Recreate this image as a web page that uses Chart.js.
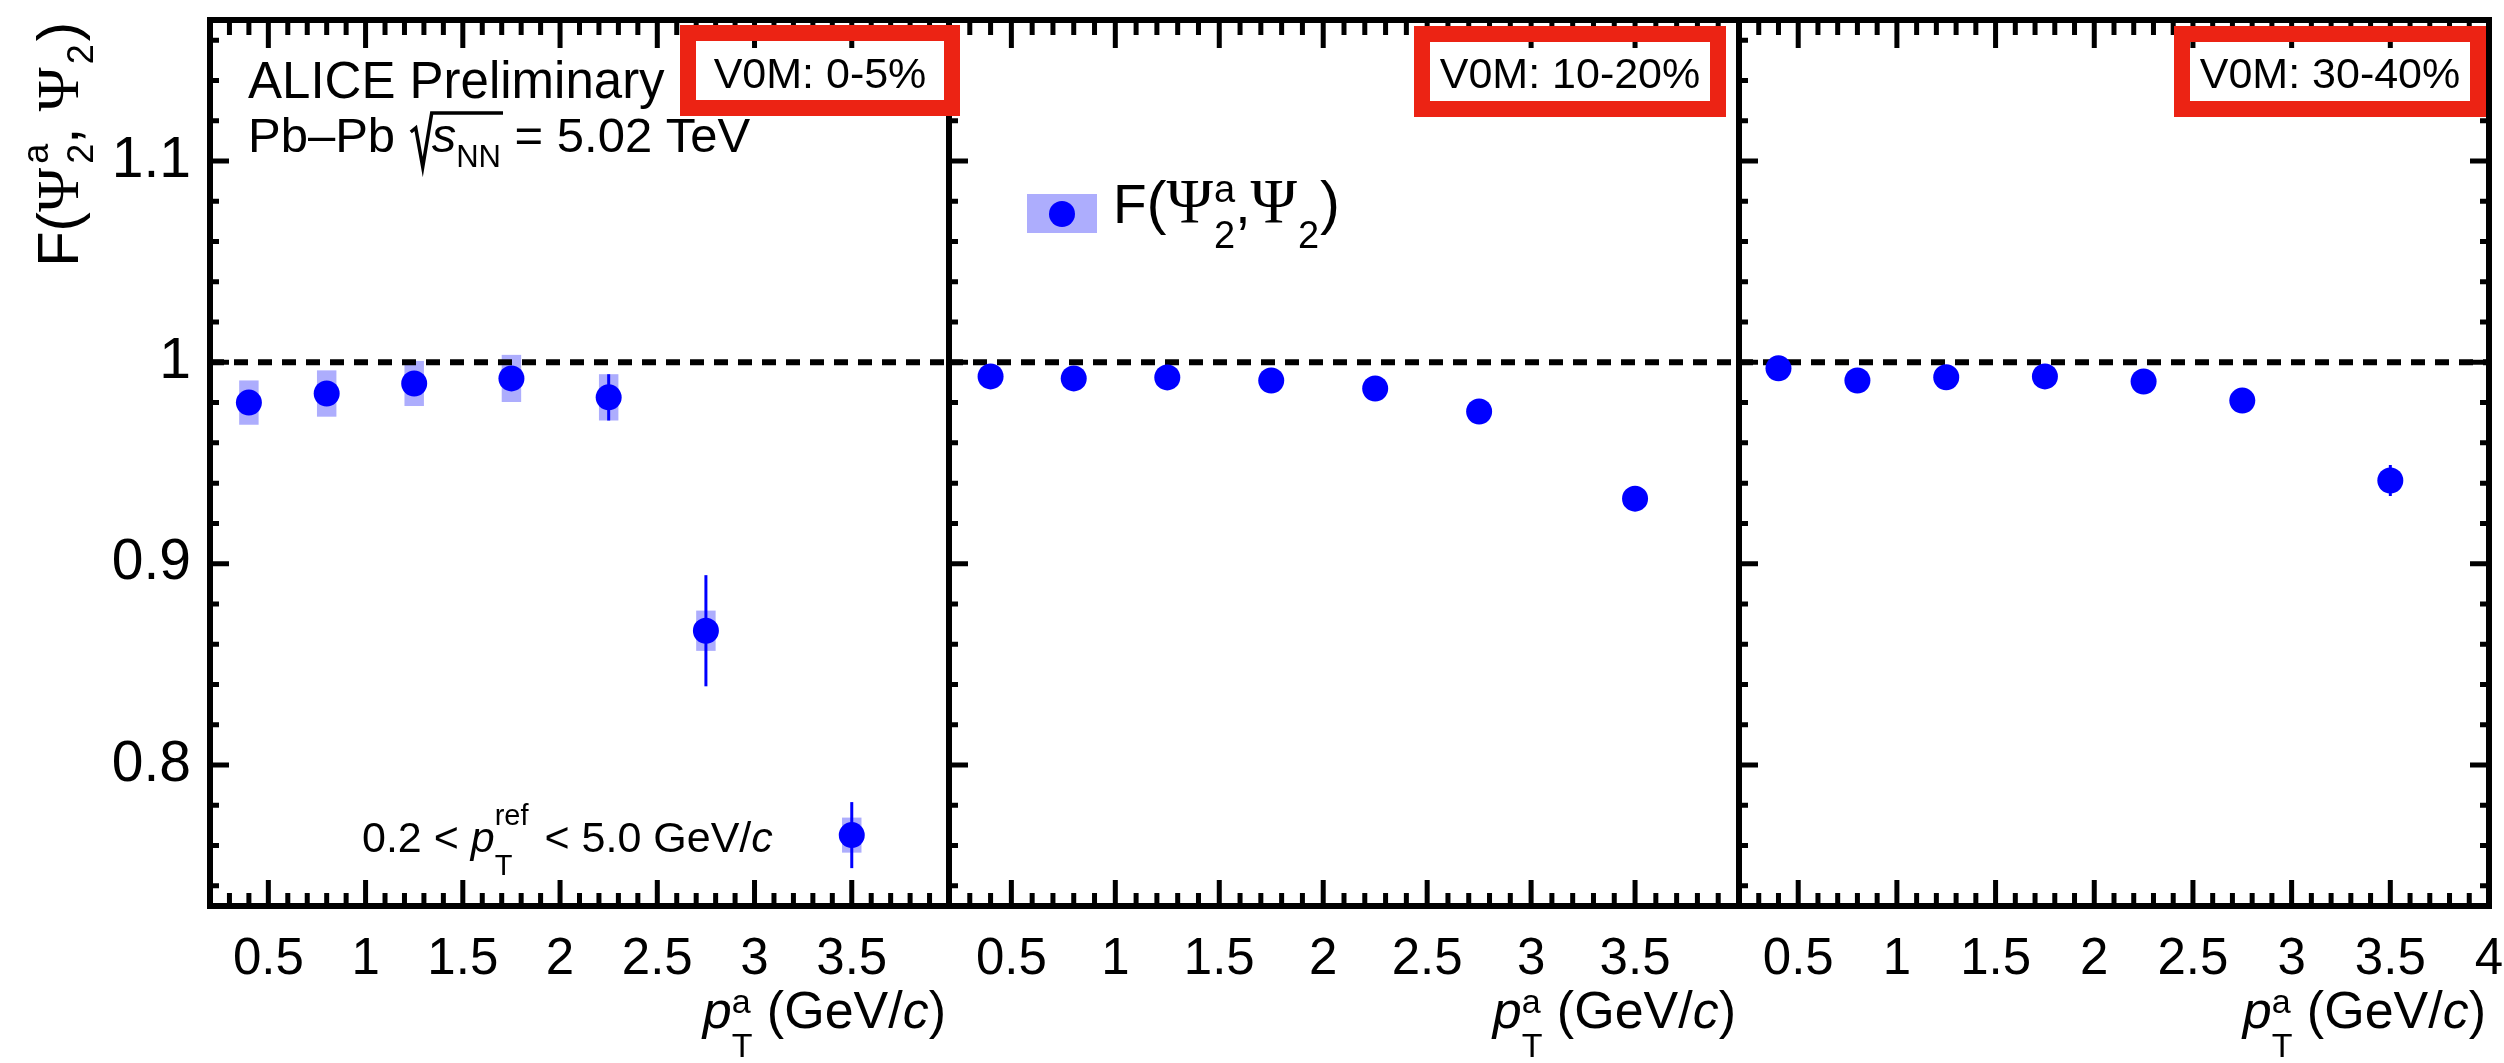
<!DOCTYPE html>
<html>
<head>
<meta charset="utf-8">
<script src="https://cdn.jsdelivr.net/npm/chart.js@4.4.1/dist/chart.umd.min.js"></script>
<style>
  html, body { margin: 0; padding: 0; background: #fff; }
  #wrap { position: relative; width: 2504px; height: 1063px; }
  #wrap canvas { position: absolute; left: 0; top: 0; }
</style>
</head>
<body>
<div id="wrap">
  <canvas id="c0" width="2504" height="1063"></canvas>
  <canvas id="c1" width="2504" height="1063"></canvas>
  <canvas id="c2" width="2504" height="1063"></canvas>
</div>
<script>
  // values
  var ptA = [0.4, 0.8, 1.25, 1.75, 2.25, 2.75, 3.5];
  var xTickLabels = [0.5, 1, 1.5, 2, 2.5, 3, 3.5, 4];
  var yTickLabels = [0.8, 0.9, 1, 1.1];

  var f_0_5 = [0.980, 0.9845, 0.9895, 0.992, 0.9826, 0.8667, 0.7652];
  var stat_0_5 = [0.004, 0.004, 0.004, 0.004, 0.0115, 0.0276, 0.0164];
  var syst_0_5 = [0.011, 0.0115, 0.0112, 0.0117, 0.0115, 0.0100, 0.0087];

  var f_10_20 = [0.993, 0.992, 0.9925, 0.991, 0.987, 0.9756, 0.9323];
  var stat_10_20 = [0.001, 0.001, 0.001, 0.001, 0.0015, 0.002, 0.004];
  var syst_10_20 = [0.002, 0.002, 0.002, 0.002, 0.002, 0.003, 0.004];

  var f_30_40 = [0.997, 0.991, 0.9926, 0.993, 0.9905, 0.981, 0.9413];
  var stat_30_40 = [0.001, 0.001, 0.001, 0.001, 0.002, 0.003, 0.0077];
  var syst_30_40 = [0.002, 0.002, 0.002, 0.002, 0.002, 0.003, 0.004];

  var centLabels = ['V0M: 0-5%', 'V0M: 10-20%', 'V0M: 30-40%'];

  var X_MIN = 0.2, X_MAX = 4, Y_MIN = 0.73, Y_MAX = 1.17;

  // layout
  var W = 2504, H = 1063, TOP = 20, BOTTOM = 906;
  var LAYOUT = [
    { left: 210, right: 949, box: [680, 25, 960, 116] },
    { left: 949, right: 1739, box: [1414, 26, 1726, 117] },
    { left: 1739, right: 2489, box: [2174, 26, 2486, 117] }
  ];
  var SANS = '"Liberation Sans", Arial, Helvetica, sans-serif';
  var SERIF = '"Liberation Serif", "DejaVu Serif", serif';
  var BLUE = '#0000ff';
  var SYST_COLOR = '#adadfd';
  var RED = '#ec2314';
  var SYST_HALF = 0.05;

  var panels = [
    { values: f_0_5, stat: stat_0_5, syst: syst_0_5 },
    { values: f_10_20, stat: stat_10_20, syst: syst_10_20 },
    { values: f_30_40, stat: stat_30_40, syst: syst_30_40 }
  ];

  function partFont(p, size) {
    return (p.italic ? 'italic ' : '') + (p.size && p.t !== undefined ? p.size : size) + 'px ' + (p.serif ? SERIF : SANS);
  }

  function partWidth(ctx, p, size) {
    if (p.t !== undefined) {
      ctx.font = partFont(p, size);
      return ctx.measureText(p.t).width + (p.pad || 0);
    }
    var w = 0;
    ctx.font = p.size + 'px ' + SANS;
    if (p.sup) w = Math.max(w, ctx.measureText(p.sup).width);
    if (p.sub) w = Math.max(w, ctx.measureText(p.sub).width);
    return w + (p.pad || 0);
  }

  // text with sub/superscripts, returns the end x
  function drawRich(ctx, parts, x, y, size, align) {
    var ws = parts.map(function (p) { return partWidth(ctx, p, size); });
    var total = ws.reduce(function (a, b) { return a + b; }, 0);
    var cx = align === 'right' ? x - total : x;
    ctx.textAlign = 'left';
    ctx.textBaseline = 'alphabetic';
    parts.forEach(function (p, k) {
      if (p.t !== undefined) {
        ctx.font = partFont(p, size);
        ctx.fillText(p.t, cx, y);
      } else {
        ctx.font = p.size + 'px ' + SANS;
        if (p.sup) ctx.fillText(p.sup, cx, y + p.supDy);
        if (p.sub) ctx.fillText(p.sub, cx, y + p.subDy);
      }
      cx += ws[k];
    });
    return cx;
  }

  function panelDecor(i) {
    var p = panels[i];
    return {
      id: 'decor' + i,
      beforeDatasetsDraw: function (chart) {
        var ctx = chart.ctx, xs = chart.scales.x, ys = chart.scales.y, a = chart.chartArea;
        ctx.save();
        // systematic boxes
        ctx.fillStyle = SYST_COLOR;
        ptA.forEach(function (x, k) {
          var x0 = xs.getPixelForValue(x - SYST_HALF), x1 = xs.getPixelForValue(x + SYST_HALF);
          var y0 = ys.getPixelForValue(p.values[k] + p.syst[k]), y1 = ys.getPixelForValue(p.values[k] - p.syst[k]);
          ctx.fillRect(x0, y0, x1 - x0, y1 - y0);
        });
        // unity line
        var yOne = ys.getPixelForValue(1);
        ctx.strokeStyle = '#000';
        ctx.lineWidth = 6;
        ctx.setLineDash([14, 10]);
        ctx.beginPath();
        ctx.moveTo(a.left, yOne);
        ctx.lineTo(a.right, yOne);
        ctx.stroke();
        ctx.setLineDash([]);
        // statistical bars
        ctx.strokeStyle = BLUE;
        ctx.lineWidth = 3;
        ptA.forEach(function (x, k) {
          var px = xs.getPixelForValue(x);
          ctx.beginPath();
          ctx.moveTo(px, ys.getPixelForValue(p.values[k] + p.stat[k]));
          ctx.lineTo(px, ys.getPixelForValue(p.values[k] - p.stat[k]));
          ctx.stroke();
        });
        ctx.restore();
      },
      afterDraw: function (chart) {
        var ctx = chart.ctx, xs = chart.scales.x, ys = chart.scales.y, a = chart.chartArea;
        ctx.save();
        ctx.strokeStyle = '#000';
        // ticks
        ctx.lineWidth = 5;
        ctx.beginPath();
        var k, v, px, len;
        for (k = 3; k < 40; k++) {
          v = k / 10;
          px = xs.getPixelForValue(v);
          len = k % 5 === 0 ? 26 : 13;
          ctx.moveTo(px, a.bottom);
          ctx.lineTo(px, a.bottom - len);
          ctx.moveTo(px, a.top);
          ctx.lineTo(px, a.top + (k % 5 === 0 ? 28 : 15));
        }
        for (k = 37; k <= 58; k++) {
          v = k / 50;
          px = ys.getPixelForValue(v);
          len = k % 5 === 0 ? 19 : 9;
          ctx.moveTo(a.left, px);
          ctx.lineTo(a.left + len, px);
          if (i === 2) {
            ctx.moveTo(a.right, px);
            ctx.lineTo(a.right - len, px);
          }
        }
        ctx.stroke();
        // frame
        ctx.lineWidth = 6;
        ctx.beginPath();
        ctx.moveTo(a.left - 3, a.top);
        ctx.lineTo(a.right + 3, a.top);
        ctx.moveTo(a.left - 3, a.bottom);
        ctx.lineTo(a.right + 3, a.bottom);
        ctx.moveTo(a.left, a.top);
        ctx.lineTo(a.left, a.bottom);
        if (i === 2) {
          ctx.moveTo(a.right, a.top);
          ctx.lineTo(a.right, a.bottom);
        }
        ctx.stroke();
        // x title
        ctx.fillStyle = '#000';
        drawRich(ctx, [
          { t: 'p', italic: true },
          { sup: 'a', sub: 'T', size: 34, supDy: -15, subDy: 29 },
          { t: ' (GeV/' },
          { t: 'c', italic: true },
          { t: ')' }
        ], a.right - 3, 1028, 52, 'right');
        ctx.restore();
      }
    };
  }

  // annotations drawn on the top canvas
  var overlay = {
    id: 'overlay',
    afterDraw: function (chart) {
      var ctx = chart.ctx;
      ctx.save();
      // centrality boxes
      LAYOUT.forEach(function (l, i) {
        var b = l.box;
        ctx.strokeStyle = RED;
        ctx.lineWidth = 16;
        ctx.strokeRect(b[0] + 8, b[1] + 8, b[2] - b[0] - 16, b[3] - b[1] - 16);
        ctx.fillStyle = '#000';
        ctx.font = '43px ' + SANS;
        ctx.textAlign = 'center';
        ctx.textBaseline = 'alphabetic';
        ctx.fillText(centLabels[i], (b[0] + b[2]) / 2, 88);
      });
      ctx.fillStyle = '#000';
      ctx.strokeStyle = '#000';
      // ALICE label
      drawRich(ctx, [{ t: 'ALICE Preliminary' }], 248, 98, 51);
      var cx = drawRich(ctx, [{ t: 'Pb\u2013Pb ' }], 248, 152, 49);
      var rx = cx + 2, sx = rx + 21;
      var sw = partWidth(ctx, { t: 's', italic: true }, 49) + partWidth(ctx, { sub: 'NN', size: 31 }, 49);
      ctx.lineWidth = 3.5;
      ctx.beginPath();
      ctx.moveTo(rx, 132);
      ctx.lineTo(rx + 5, 128);
      ctx.lineTo(rx + 12, 167);
      ctx.lineTo(sx, 113);
      ctx.lineTo(sx + sw + 2, 113);
      ctx.stroke();
      cx = drawRich(ctx, [{ t: 's', italic: true }, { sub: 'NN', size: 31, subDy: 15 }], sx, 152, 49);
      drawRich(ctx, [{ t: ' = 5.02 TeV' }], cx, 152, 49);
      // reference pT range
      drawRich(ctx, [
        { t: '0.2 < ' },
        { t: 'p', italic: true },
        { sup: 'ref', sub: 'T', size: 29, supDy: -27, subDy: 23, pad: 4 },
        { t: ' < 5.0 GeV/' },
        { t: 'c', italic: true }
      ], 362, 852, 43);
      // y title
      ctx.save();
      ctx.translate(78, 22);
      ctx.rotate(-Math.PI / 2);
      drawRich(ctx, [
        { t: 'F' }, { t: '(' }, { t: '\u03A8', serif: true, size: 60, pad: 4 },
        { sup: 'a', sub: '2', size: 36, supDy: -30, subDy: 15 },
        { t: ',' }, { t: ' ' }, { t: '\u03A8', serif: true, size: 60, pad: 3 },
        { sub: '2', size: 36, subDy: 15, pad: 3 },
        { t: ')' }
      ], 0, 0, 58, 'right');
      ctx.restore();
      // legend
      ctx.fillStyle = SYST_COLOR;
      ctx.fillRect(1027, 194, 70, 39);
      ctx.fillStyle = BLUE;
      ctx.beginPath();
      ctx.arc(1062, 214, 13, 0, Math.PI * 2);
      ctx.fill();
      ctx.fillStyle = '#000';
      drawRich(ctx, [
        { t: 'F' }, { t: '(', size: 60 }, { t: '\u03A8', serif: true, size: 63, pad: 1 },
        { sup: 'a', sub: '2', size: 38, supDy: -21, subDy: 25 },
        { t: ',' }, { t: '\u03A8', serif: true, size: 63, pad: 1 },
        { sub: '2', size: 38, subDy: 25, pad: 1 },
        { t: ')', size: 60 }
      ], 1113, 223, 55);
      ctx.restore();
    }
  };

  function makeChart(i) {
    var p = panels[i];
    var lay = LAYOUT[i];
    var plugins = [panelDecor(i)];
    if (i === 2) plugins.push(overlay);
    return new Chart(document.getElementById('c' + i), {
      type: 'scatter',
      data: {
        datasets: [{
          data: ptA.map(function (x, k) { return { x: x, y: p.values[k] }; }),
          pointRadius: 13,
          pointHoverRadius: 13,
          pointBackgroundColor: BLUE,
          pointBorderColor: BLUE,
          pointBorderWidth: 0
        }]
      },
      options: {
        responsive: false,
        animation: false,
        devicePixelRatio: 1,
        events: [],
        layout: { padding: { top: TOP, right: W - lay.right, bottom: 0, left: 0 } },
        plugins: { legend: { display: false }, tooltip: { enabled: false } },
        scales: {
          x: {
            type: 'linear',
            min: X_MIN,
            max: X_MAX,
            grid: { display: false },
            border: { display: false },
            afterBuildTicks: function (s) {
              s.ticks = xTickLabels.filter(function (v) { return i === 2 || v < X_MAX; })
                .map(function (v) { return { value: v }; });
            },
            afterFit: function (s) {
              s.height = H - BOTTOM;
              s.paddingLeft = 0;
              s.paddingRight = 0;
            },
            ticks: {
              autoSkip: false,
              maxRotation: 0,
              padding: 15,
              color: '#000',
              font: { family: SANS, size: 51 },
              callback: function (v) { return String(v); }
            }
          },
          y: {
            type: 'linear',
            min: Y_MIN,
            max: Y_MAX,
            grid: { display: false },
            border: { display: false },
            afterBuildTicks: function (s) {
              s.ticks = yTickLabels.map(function (v) { return { value: v }; });
            },
            afterFit: function (s) {
              s.width = lay.left;
              s.paddingTop = 0;
              s.paddingBottom = 0;
            },
            ticks: {
              display: i === 0,
              padding: 11,
              color: '#000',
              font: { family: SANS, size: 57 },
              callback: function (v) { return String(v); }
            }
          }
        }
      },
      plugins: plugins
    });
  }

  makeChart(0);
  makeChart(1);
  makeChart(2);
</script>
</body>
</html>
